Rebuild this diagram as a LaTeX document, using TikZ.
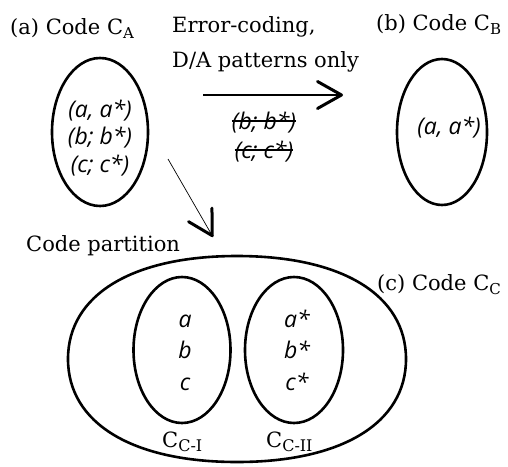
\documentclass[tikz,border=0pt]{standalone}
\usepackage{fontspec}
\setmainfont{DejaVu Serif}
\newfontfamily\elemfamily{Open Sans}
\usetikzlibrary{shapes.geometric,arrows.meta}

% lowered, smaller subscript letters in the set names
\newcommand\lowsub[2][15]{\raisebox{-4.5pt}{\fontsize{#1}{#1}\selectfont #2}}

\tikzset{
  oval/.style={ellipse, draw, line width=2.6pt, inner sep=0pt},
  title/.style={inner sep=0pt, anchor=base west, font=\fontsize{21}{21}\selectfont},
  elem/.style={inner sep=0pt, font=\fontsize{23}{23}\selectfont\elemfamily\itshape},
  barb/.style={-{Straight Barb[length=24pt,width=27pt,line width=3pt,round]}},
}

\begin{document}
\begin{tikzpicture}[x=1pt,y=-1pt]
\useasboundingbox (0,0) rectangle (508,466);

% (a) code C_A
\node[title] (ta) at (10,34) {(a) Code C\lowsub{A}};
\node[oval, minimum width=96pt, minimum height=148pt] (A) at (100,132) {};
\node[elem] (a1) at (100,111) {(a, a*)};
\node[elem] (a2) at (100,138) {(b; b*)};
\node[elem] (a3) at (100,166) {(c; c*)};

% error-coding step
\node[title] (e1) at (172,32) {Error-coding,};
\node[title] (e2) at (172,67) {D/A patterns only};
\coordinate (h1) at (203,95);
\coordinate (h2) at (343,95);
\draw[barb, line width=1.8pt] (h1) -- (h2);
\node[elem] (s1) at (264,123) {(b; b*)};
\node[elem] (s2) at (264,152) {(c; c*)};
\draw[line width=1.1pt] ([yshift=2pt]s1.west) -- ([yshift=2pt]s1.east);
\draw[line width=1.1pt] ([yshift=2pt]s2.west) -- ([yshift=2pt]s2.east);

% (b) code C_B
\node[title] (tb) at (376,30) {(b) Code C\lowsub{B}};
\node[oval, minimum width=90pt, minimum height=146pt] (B) at (442,132) {};
\node[elem] (b1) at (449,128) {(a, a*)};

% partition step
\coordinate (d1) at (168,159);
\coordinate (d2) at (213,237);
\draw[barb, line width=0.7pt] (d1) -- (d2);
\node[title] (tp) at (26,251) {Code partition};

% (c) code C_C
\node[title] (tc) at (377,290) {(c) Code C\lowsub{C}};
\draw[line width=2.6pt]
  (68,359) .. controls (68,295) and (132,256) .. (237,256)
           .. controls (342,256) and (406,295) .. (406,359)
           .. controls (406,423) and (342,462) .. (237,462)
           .. controls (132,462) and (68,423) .. (68,359) -- cycle;
\coordinate (C) at (237,359);

\node[oval, minimum width=97pt, minimum height=146pt] (CI) at (182,350) {};
\node[oval, minimum width=98pt, minimum height=146pt] (CII) at (294,350) {};

\node[elem, anchor=base] (i1) at (185,327) {a};
\node[elem, anchor=base] (i2) at (185,358) {b};
\node[elem, anchor=base] (i3) at (185,390) {c};
\node[elem, anchor=base] (j1) at (297,327) {a*};
\node[elem, anchor=base] (j2) at (297,358) {b*};
\node[elem, anchor=base] (j3) at (297,390) {c*};

\node[title] (tci) at (162,447) {C\lowsub[16]{C-I}};
\node[title] (tcii) at (266,447) {C\lowsub[16]{C-II}};
\end{tikzpicture}
\end{document}
